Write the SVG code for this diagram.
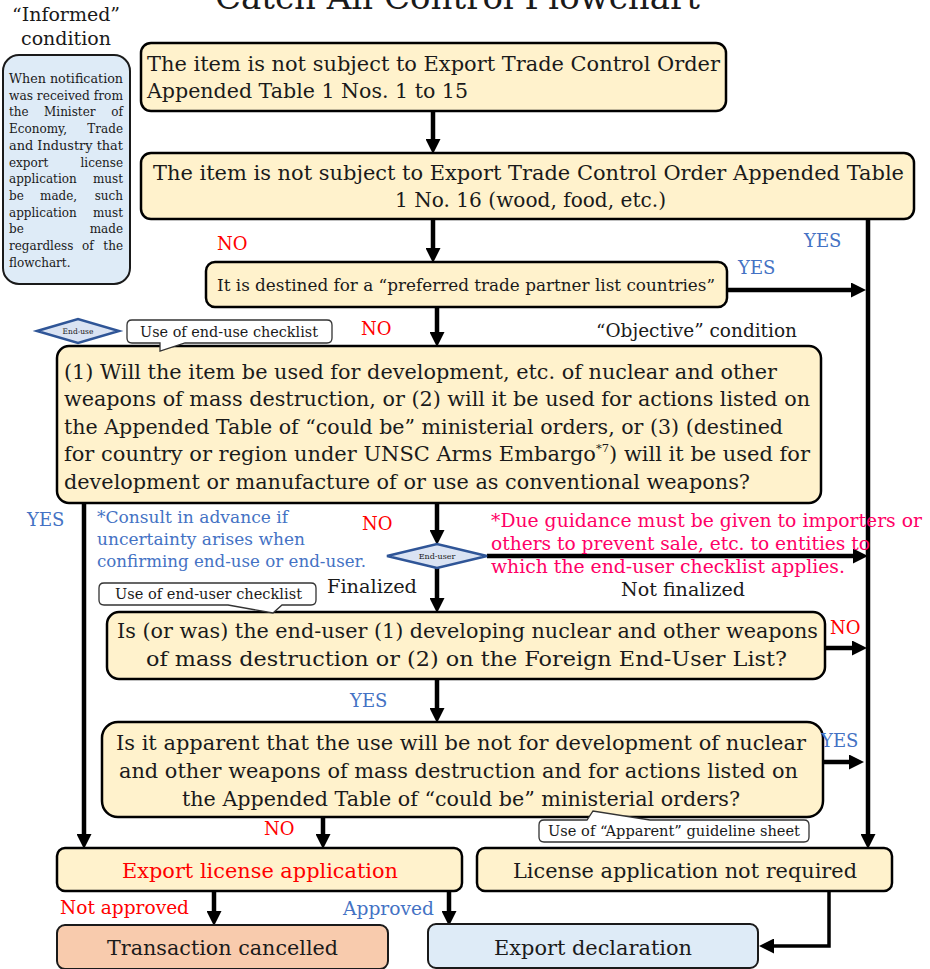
<svg xmlns="http://www.w3.org/2000/svg" width="930" height="969" viewBox="0 0 930 969">
<defs>
<style>
.s{font-family:"DejaVu Serif","Liberation Serif",serif;fill:#1a1a1a}
.box{fill:#fff2cc;stroke:#000;stroke-width:2.5}
.bl{fill:#deebf7;stroke:#1a1a1a;stroke-width:2}
.sal{fill:#f8cbad;stroke:#1a1a1a;stroke-width:2}
.co{fill:#fff;stroke:#333;stroke-width:1.3}
.dia{fill:#dae3f3;stroke:#2f5597;stroke-width:2.5}
.cn{stroke:#000;stroke-width:4.5;fill:none}
.red{fill:#ff0000}
.yes{fill:#4472c4}
.pink{fill:#ff0066}
.f20{font-size:20px}
.f18{font-size:18px}
.f16{font-size:16px}
.f14{font-size:14px}
.f12{font-size:12px}
</style>
<marker id="ah" viewBox="0 0 15 15" refX="6" refY="7.5" markerWidth="15" markerHeight="15" markerUnits="userSpaceOnUse" orient="auto"><path d="M0,0L15,7.5L0,15z" fill="#000"/></marker>
</defs>

<g id="title">
<text class="s" x="215" y="9" font-size="34" textLength="485" lengthAdjust="spacingAndGlyphs">Catch All Control Flowchart</text>
</g>

<g id="informed">
<text class="s" x="66" y="21" font-size="19" text-anchor="middle">“Informed”</text>
<text class="s" x="66" y="45" font-size="19" text-anchor="middle">condition</text>
<rect class="bl" x="3" y="55" width="127" height="229" rx="16"/>
<g class="s f12">
<text x="9" y="83" textLength="114" lengthAdjust="spacingAndGlyphs">When notification</text>
<text x="9" y="99.7" textLength="114" lengthAdjust="spacingAndGlyphs">was received from</text>
<text x="9" y="116.4">the</text><text x="44" y="116.4">Minister</text><text x="123" y="116.4" text-anchor="end">of</text>
<text x="9" y="133.1">Economy,</text><text x="123" y="133.1" text-anchor="end">Trade</text>
<text x="9" y="149.8" textLength="114" lengthAdjust="spacingAndGlyphs">and Industry that</text>
<text x="9" y="166.5">export</text><text x="123" y="166.5" text-anchor="end">license</text>
<text x="9" y="183.2">application</text><text x="123" y="183.2" text-anchor="end">must</text>
<text x="9" y="199.9">be</text><text x="40" y="199.9">made,</text><text x="123" y="199.9" text-anchor="end">such</text>
<text x="9" y="216.6">application</text><text x="123" y="216.6" text-anchor="end">must</text>
<text x="9" y="233.3">be</text><text x="123" y="233.3" text-anchor="end">made</text>
<text x="9" y="250">regardless</text><text x="82" y="250">of</text><text x="123" y="250" text-anchor="end">the</text>
<text x="9" y="266.7">flowchart.</text>
</g>
</g>

<g id="connectors">
<line class="cn" x1="433" y1="111" x2="433" y2="145" marker-end="url(#ah)"/>
<line class="cn" x1="433" y1="219" x2="433" y2="254" marker-end="url(#ah)"/>
<line class="cn" x1="727" y1="290" x2="857" y2="290" marker-end="url(#ah)"/>
<line class="cn" x1="868" y1="219" x2="868" y2="840" marker-end="url(#ah)"/>
<line class="cn" x1="437" y1="307" x2="437" y2="338" marker-end="url(#ah)"/>
<line class="cn" x1="84" y1="503" x2="84" y2="840" marker-end="url(#ah)"/>
<line class="cn" x1="437" y1="503" x2="437" y2="536" marker-end="url(#ah)"/>
<line class="cn" x1="487" y1="556" x2="859" y2="556" marker-end="url(#ah)"/>
<line class="cn" x1="437" y1="568" x2="437" y2="604" marker-end="url(#ah)"/>
<line class="cn" x1="825" y1="648" x2="858" y2="648" marker-end="url(#ah)"/>
<line class="cn" x1="437" y1="679" x2="437" y2="714" marker-end="url(#ah)"/>
<line class="cn" x1="823" y1="762" x2="855" y2="762" marker-end="url(#ah)"/>
<line class="cn" x1="323" y1="817" x2="323" y2="840" marker-end="url(#ah)"/>
<line class="cn" x1="214" y1="891" x2="214" y2="917" marker-end="url(#ah)"/>
<line class="cn" x1="449" y1="891" x2="449" y2="917" marker-end="url(#ah)"/>
<polyline class="cn" style="stroke-width:3.5" points="829,891 829,946 768,946" marker-end="url(#ah)"/>
</g>

<g id="box1">
<rect class="box" x="141" y="43" width="585" height="68" rx="10"/>
<text class="s f20" x="147" y="71" textLength="573" lengthAdjust="spacingAndGlyphs">The item is not subject to Export Trade Control Order</text>
<text class="s f20" x="147" y="98" textLength="321" lengthAdjust="spacingAndGlyphs">Appended Table 1 Nos. 1 to 15</text>
</g>

<g id="box2">
<rect class="box" x="141" y="153" width="773" height="66" rx="10"/>
<text class="s f20" x="153" y="180" textLength="751" lengthAdjust="spacingAndGlyphs">The item is not subject to Export Trade Control Order Appended Table</text>
<text class="s f20" x="395" y="207" textLength="271" lengthAdjust="spacingAndGlyphs">1 No. 16 (wood, food, etc.)</text>
</g>

<g id="box3">
<rect class="box" x="206" y="262" width="521" height="45" rx="9"/>
<text class="s f16" x="217" y="291" textLength="498" lengthAdjust="spacingAndGlyphs">It is destined for a “preferred trade partner list countries”</text>
</g>

<g id="objective">
<text class="s f18" x="596" y="337" textLength="201" lengthAdjust="spacingAndGlyphs">“Objective” condition</text>
</g>

<g id="enduse-diamond">
<polygon class="dia" points="37,331 78,319 119,331 78,343"/>
<text class="s" x="78" y="334" font-size="7.5" text-anchor="middle">End-use</text>
</g>

<g id="box4">
<rect class="box" x="57" y="346" width="764" height="157" rx="12"/>
<g class="s f20">
<text x="64" y="379" textLength="713" lengthAdjust="spacingAndGlyphs">(1) Will the item be used for development, etc. of nuclear and other</text>
<text x="64" y="406" textLength="746" lengthAdjust="spacingAndGlyphs">weapons of mass destruction, or (2) will it be used for actions listed on</text>
<text x="64" y="433.5" textLength="719" lengthAdjust="spacingAndGlyphs">the Appended Table of “could be” ministerial orders, or (3) (destined</text>
<text x="64" y="461" textLength="746" lengthAdjust="spacingAndGlyphs">for country or region under UNSC Arms Embargo<tspan font-size="11" dy="-9">*7</tspan><tspan dy="9">) will it be used for</tspan></text>
<text x="64" y="488.5" textLength="686" lengthAdjust="spacingAndGlyphs">development or manufacture of or use as conventional weapons?</text>
</g>
</g>

<g id="callout-enduse">
<path class="co" d="M132,320H327Q332,320 332,325V338Q332,343 327,343H185L160,351L160,343H132Q127,343 127,338V325Q127,320 132,320Z"/>
<text class="s f14" x="140" y="337" textLength="178" lengthAdjust="spacingAndGlyphs">Use of end-use checklist</text>
</g>

<g id="consult-note">
<text class="s yes" font-size="16.5" x="97" y="523" textLength="191" lengthAdjust="spacingAndGlyphs">*Consult in advance if</text>
<text class="s yes" font-size="16.5" x="97" y="545" textLength="208" lengthAdjust="spacingAndGlyphs">uncertainty arises when</text>
<text class="s yes" font-size="16.5" x="97" y="567" textLength="269" lengthAdjust="spacingAndGlyphs">confirming end-use or end-user.</text>
</g>

<g id="enduser-diamond">
<polygon class="dia" points="387,556 437,544 487,556 437,568"/>
<text class="s" x="437" y="559" font-size="8" text-anchor="middle">End-user</text>
</g>

<g id="guidance-note">
<text class="s pink f18" x="491" y="527" textLength="431" lengthAdjust="spacingAndGlyphs">*Due guidance must be given to importers or</text>
<text class="s pink f18" x="491" y="550" textLength="379" lengthAdjust="spacingAndGlyphs">others to prevent sale, etc. to entities to</text>
<text class="s pink f18" x="491" y="573" textLength="354" lengthAdjust="spacingAndGlyphs">which the end-user checklist applies.</text>
</g>

<g id="box5">
<rect class="box" x="107" y="612" width="718" height="67" rx="12"/>
<text class="s f20" x="117" y="638" textLength="701" lengthAdjust="spacingAndGlyphs">Is (or was) the end-user (1) developing nuclear and other weapons</text>
<text class="s f20" x="146" y="666" textLength="641" lengthAdjust="spacingAndGlyphs">of mass destruction or (2) on the Foreign End-User List?</text>
</g>

<g id="callout-enduser">
<path class="co" d="M104,583H311Q316,583 316,588V600Q316,605 311,605H282L273,613L228,605H104Q99,605 99,600V588Q99,583 104,583Z"/>
<text class="s f14" x="115" y="599" textLength="187" lengthAdjust="spacingAndGlyphs">Use of end-user checklist</text>
</g>

<g id="box6">
<rect class="box" x="102" y="722" width="721" height="95" rx="16"/>
<text class="s f20" x="116" y="750" textLength="690" lengthAdjust="spacingAndGlyphs">Is it apparent that the use will be not for development of nuclear</text>
<text class="s f20" x="119" y="778" textLength="679" lengthAdjust="spacingAndGlyphs">and other weapons of mass destruction and for actions listed on</text>
<text class="s f20" x="182" y="806" textLength="558" lengthAdjust="spacingAndGlyphs">the Appended Table of “could be” ministerial orders?</text>
</g>

<g id="callout-apparent">
<path class="co" d="M544,820H587L593,811L650,820H804Q809,820 809,825V837Q809,842 804,842H544Q539,842 539,837V825Q539,820 544,820Z"/>
<text class="s f14" x="548" y="836" textLength="252" lengthAdjust="spacingAndGlyphs">Use of “Apparent” guideline sheet</text>
</g>

<g id="labels">
<text class="s red f18" x="217" y="250">NO</text>
<text class="s yes f18" x="804" y="247">YES</text>
<text class="s yes f18" x="738" y="274">YES</text>
<text class="s red f18" x="361" y="335">NO</text>
<text class="s yes f18" x="27" y="526">YES</text>
<text class="s red f18" x="362" y="530">NO</text>
<text class="s f18" x="327" y="593" textLength="90" lengthAdjust="spacingAndGlyphs">Finalized</text>
<text class="s f18" x="621" y="596" textLength="124" lengthAdjust="spacingAndGlyphs">Not finalized</text>
<text class="s red f18" x="830" y="634">NO</text>
<text class="s yes f18" x="350" y="707">YES</text>
<text class="s yes f18" x="821" y="747">YES</text>
<text class="s red f18" x="264" y="835">NO</text>
<text class="s red f18" x="60" y="914" textLength="129" lengthAdjust="spacingAndGlyphs">Not approved</text>
<text class="s yes f18" x="343" y="915" textLength="91" lengthAdjust="spacingAndGlyphs">Approved</text>
</g>

<g id="export-license">
<rect class="box" x="57" y="848" width="405" height="43" rx="8"/>
<text class="s red f20" x="122" y="878" textLength="276" lengthAdjust="spacingAndGlyphs">Export license application</text>
</g>

<g id="not-required">
<rect class="box" x="477" y="848" width="415" height="43" rx="8"/>
<text class="s f20" x="513" y="878" textLength="344" lengthAdjust="spacingAndGlyphs">License application not required</text>
</g>

<g id="cancelled">
<rect class="sal" x="57" y="925" width="331" height="44" rx="8"/>
<text class="s f20" x="107" y="955" textLength="231" lengthAdjust="spacingAndGlyphs">Transaction cancelled</text>
</g>

<g id="declaration">
<rect class="bl" x="428" y="924" width="330" height="44" rx="8"/>
<text class="s f20" x="494" y="955" textLength="198" lengthAdjust="spacingAndGlyphs">Export declaration</text>
</g>
</svg>
